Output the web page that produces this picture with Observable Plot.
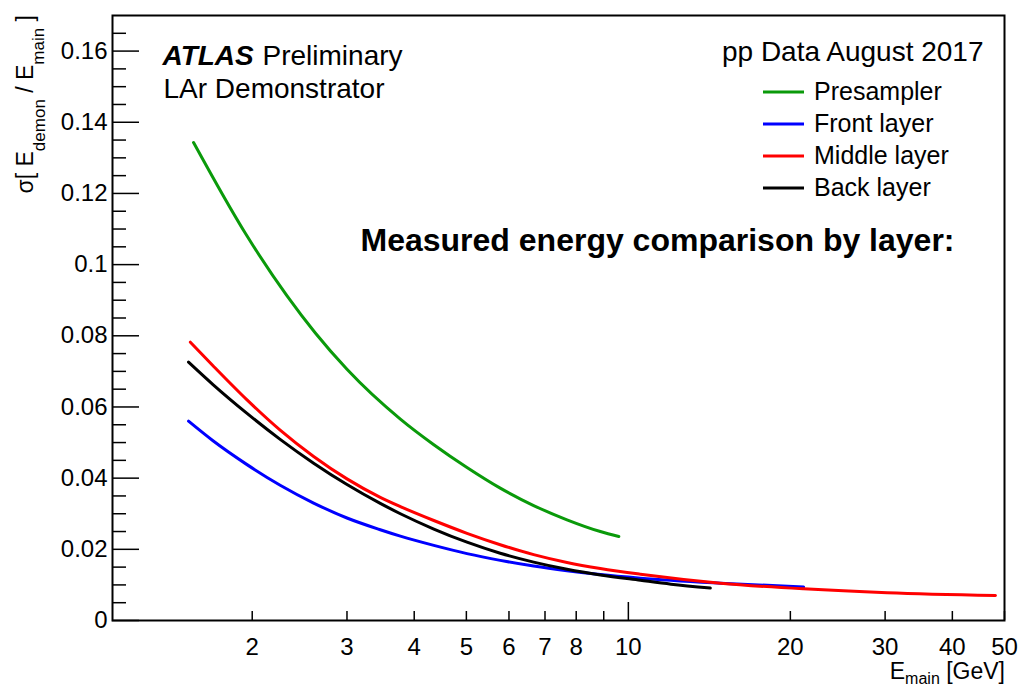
<!DOCTYPE html>
<html>
<head>
<meta charset="utf-8">
<script src="https://cdn.jsdelivr.net/npm/d3@7"></script>
<script src="https://cdn.jsdelivr.net/npm/@observablehq/plot@0.6"></script>
<style>
  html, body { margin: 0; padding: 0; background: #fff; }
  #chart svg { display: block; background: #fff; }
</style>
</head>
<body>
<div id="chart"></div>
<script>
// Resolution curves, sigma[E_demon / E_main] versus E_main (GeV), one per LAr layer
const presamplerE     = [1.556, 1.942, 2.62, 3.0, 3.77, 4.35, 5.013, 5.78, 6.668, 7.69, 8.87, 9.6];
const presamplerSigma = [0.1343, 0.1088, 0.0808, 0.0706, 0.0566, 0.0494, 0.0430, 0.0372, 0.0323, 0.0283, 0.0250, 0.0236];

const frontE     = [1.523, 1.691, 1.956, 2.254, 2.601, 3.0, 3.459, 3.77, 4.35, 5.013, 5.78, 6.668, 7.69, 8.87, 10.53, 14.83, 21.17];
const frontSigma = [0.0560, 0.0505, 0.0438, 0.0380, 0.0330, 0.0288, 0.0255, 0.0237, 0.0211, 0.0188, 0.0169, 0.0153, 0.0140, 0.0129, 0.0119, 0.0105, 0.0094];

const middleE     = [1.535, 1.691, 1.956, 2.254, 2.601, 3.0, 3.459, 3.77, 4.35, 5.013, 5.78, 6.668, 7.69, 8.87, 10.53, 14.83, 21.17, 30.26, 48.1];
const middleSigma = [0.0782, 0.0716, 0.0620, 0.0535, 0.0461, 0.0398, 0.0346, 0.0320, 0.0281, 0.0245, 0.0213, 0.0185, 0.0163, 0.0146, 0.0130, 0.0105, 0.0089, 0.0078, 0.0070];

const backE     = [1.523, 1.691, 1.956, 2.254, 2.601, 3.0, 3.459, 3.77, 4.35, 5.013, 5.78, 6.668, 7.69, 8.87, 10.53, 12.0, 14.2];
const backSigma = [0.0726, 0.0663, 0.0582, 0.0509, 0.0442, 0.0382, 0.0329, 0.0300, 0.0257, 0.0220, 0.0189, 0.0164, 0.0144, 0.0128, 0.0113, 0.0102, 0.0091];

const layerNames  = ["Presampler", "Front layer", "Middle layer", "Back layer"];
const layerColors = ["#0a9a0a", "#0000ff", "#ff0000", "#000000"];

// Axis ticks
const xMajorTicks = [10];
const xMinorTicks = [2, 3, 4, 5, 6, 7, 8, 9, 20, 30, 40, 50];
const xTickLabels = [2, 3, 4, 5, 6, 7, 8, 9, 10, 20, 30, 40, 50];
const yMajorTicks = [0, 0.02, 0.04, 0.06, 0.08, 0.1, 0.12, 0.14, 0.16];
const yMinorTicks = [0.005, 0.01, 0.015, 0.025, 0.03, 0.035, 0.045, 0.05, 0.055, 0.065, 0.07, 0.075,
                     0.085, 0.09, 0.095, 0.105, 0.11, 0.115, 0.125, 0.13, 0.135, 0.145, 0.15, 0.155, 0.165];

const seriesE     = [presamplerE, frontE, middleE, backE];
const seriesSigma = [presamplerSigma, frontSigma, middleSigma, backSigma];
const curves = seriesE.flatMap((es, k) =>
  es.map((e, i) => ({layer: layerNames[k], e, sigma: seriesSigma[k][i]})));

const font = "'Liberation Sans', Arial, Helvetica, sans-serif";

const svg = Plot.plot({
  width: 1021,
  height: 686,
  marginLeft: 112,
  marginRight: 17,
  marginTop: 15,
  marginBottom: 66,
  style: {fontFamily: font, color: "#000", background: "#fff", overflow: "visible"},
  x: {type: "log", domain: [1.1, 50], label: null},
  y: {domain: [0, 0.17], label: null},
  color: {domain: layerNames, range: layerColors},
  marks: [
    // inward ticks
    Plot.axisY(yMajorTicks, {tickSize: -27, fill: "none", label: null, strokeWidth: 1.5}),
    Plot.axisY(yMinorTicks, {tickSize: -14, fill: "none", label: null, strokeWidth: 1.5}),
    Plot.axisX(xMajorTicks, {tickSize: -18, fill: "none", label: null, strokeWidth: 1.5}),
    Plot.axisX(xMinorTicks, {tickSize: -9, fill: "none", label: null, strokeWidth: 1.5}),
    // tick labels
    Plot.axisY(yMajorTicks, {tickSize: 0, tickPadding: 5, fontSize: 24, label: null, tickFormat: d => String(d)}),
    Plot.axisX(xTickLabels, {tickSize: 0, tickPadding: 17, fontSize: 24, label: null, tickFormat: d => String(d)}),
    // curves (monotone interpolation in screen space, robust to uneven spacing)
    Plot.line(curves, {x: "e", y: "sigma", z: "layer", stroke: "layer", strokeWidth: 3, curve: "monotone-x"}),
    Plot.frame({stroke: "#000", strokeWidth: 2}),
    // annotations
    Plot.text(["ATLAS"], {frameAnchor: "top-left", dx: 50, dy: 49, lineAnchor: "bottom", textAnchor: "start",
      fontSize: 28, fontWeight: "bold", fontStyle: "italic", fill: "#000"}),
    Plot.text(["Preliminary"], {frameAnchor: "top-left", dx: 150, dy: 49, lineAnchor: "bottom", textAnchor: "start",
      fontSize: 28, fill: "#000"}),
    Plot.text(["LAr Demonstrator"], {frameAnchor: "top-left", dx: 51, dy: 82, lineAnchor: "bottom", textAnchor: "start",
      fontSize: 28, fill: "#000"}),
    Plot.text(["pp Data August 2017"], {frameAnchor: "top-right", dx: -21, dy: 45, lineAnchor: "bottom", textAnchor: "end",
      fontSize: 28, fill: "#000"}),
    Plot.text(["Measured energy comparison by layer:"], {frameAnchor: "top-left", dx: 248, dy: 235, lineAnchor: "bottom",
      textAnchor: "start", fontSize: 32, fontWeight: "bold", fill: "#000"})
  ]
});

document.getElementById("chart").appendChild(svg);

const root = d3.select(svg);

// legend
const legend = root.append("g")
  .attr("font-family", font)
  .attr("font-size", 25)
  .attr("text-anchor", "start");
layerNames.forEach((name, i) => {
  const y = 92 + i * 32;
  legend.append("line").attr("x1", 763).attr("x2", 804).attr("y1", y).attr("y2", y)
    .attr("stroke", layerColors[i]).attr("stroke-width", 3);
  legend.append("text").attr("x", 814).attr("y", y + 8).attr("fill", "#000").text(name);
});

// y-axis title with subscripts
const yTitle = root.append("text")
  .attr("transform", "translate(33,15) rotate(-90)")
  .attr("text-anchor", "end")
  .attr("font-family", font)
  .attr("font-size", 23)
  .attr("fill", "#000")
  .style("white-space", "pre");
yTitle.append("tspan").text("σ[ E");
yTitle.append("tspan").attr("dy", 12).attr("font-size", 17).text("demon");
yTitle.append("tspan").attr("dy", -12).text(" / E");
yTitle.append("tspan").attr("dy", 11).attr("font-size", 17).text("main");
yTitle.append("tspan").attr("dy", -11).text(" ]");

// x-axis title with subscript
const xTitle = root.append("text")
  .attr("x", 1005)
  .attr("y", 679)
  .attr("text-anchor", "end")
  .attr("font-family", font)
  .attr("font-size", 23)
  .attr("fill", "#000")
  .style("white-space", "pre");
xTitle.append("tspan").text("E");
xTitle.append("tspan").attr("dy", 5).attr("font-size", 16).text("main");
xTitle.append("tspan").attr("dy", -5).text(" [GeV]");
</script>
</body>
</html>
